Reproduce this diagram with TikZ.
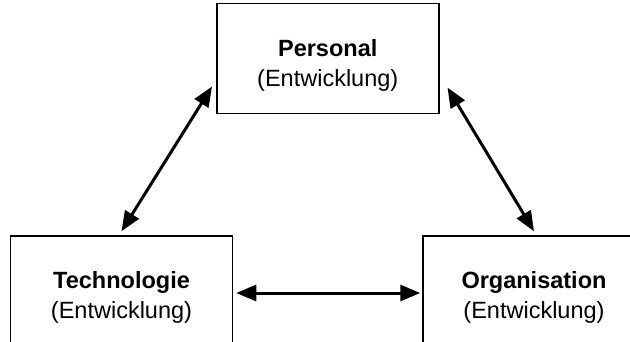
\documentclass[tikz,border=0pt]{standalone}
\usepackage{fontspec}
\setmainfont{Liberation Sans}
\usepackage{tikz}
\usetikzlibrary{arrows.meta, positioning, calc}

\newcommand{\boxtext}[1]{\rule{0pt}{30pt}\textbf{#1}\\(Entwicklung)}

\begin{document}
\begin{tikzpicture}[
  x=1pt, y=-1pt,
  box/.style={rectangle, draw=black, line width=1.5pt, fill=white,
    minimum width=222pt, minimum height=110pt, inner sep=0pt,
    font=\fontsize{23.5}{30}\selectfont, align=center},
  dblarrow/.style={{Triangle[length=20pt,width=16pt]}-{Triangle[length=20pt,width=16pt]},
    line width=3pt}
]
\useasboundingbox (0,0) rectangle (630,341);

\node[box] (tech) at (121.5,291) {\boxtext{Technologie}};
\node[box, right=189pt of tech] (orga) {\boxtext{Organisation}};
\coordinate (mid) at ($(tech.north)!0.5!(orga.north)$);
\node[box, above=121pt of mid] (pers) {\boxtext{Personal}};

\draw[dblarrow]
  ([yshift=4pt]tech.north) -- ([xshift=-4pt,yshift=-28pt]pers.west);
\draw[dblarrow]
  ([xshift=8pt,yshift=-29pt]pers.east) -- ([yshift=4pt]orga.north);
\draw[dblarrow]
  ([xshift=3pt,yshift=-2pt]tech.east) -- ([xshift=-2pt,yshift=-2pt]orga.west);
\end{tikzpicture}
\end{document}
